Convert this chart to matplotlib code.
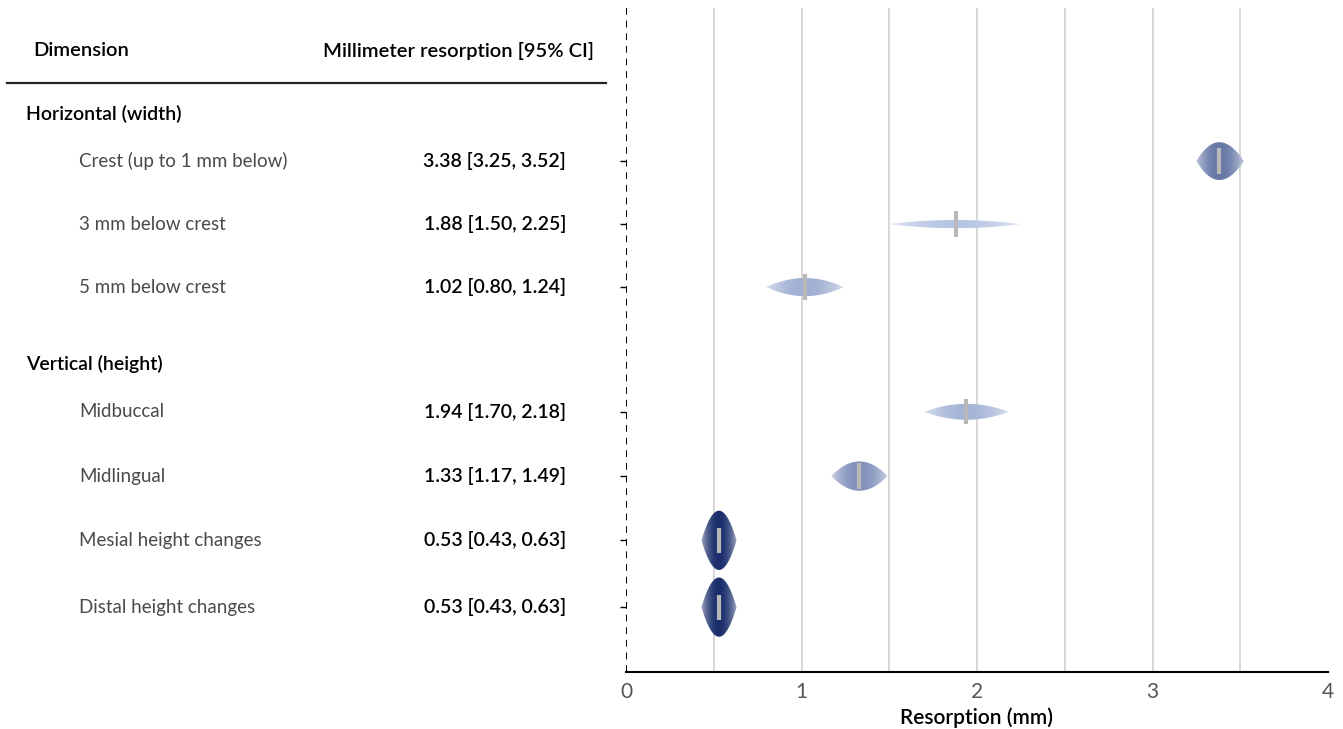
import numpy as np
import matplotlib
matplotlib.use("Agg")
from matplotlib import pyplot as plt
from matplotlib.patches import Polygon
from matplotlib.lines import Line2D
from matplotlib.transforms import blended_transform_factory
from matplotlib.colors import to_rgb

plt.rcParams['font.family'] = ['Lato', 'DejaVu Sans']

# resorption estimates with 95% CI
groups = ["Horizontal (width)", "Vertical (height)"]
labels = ["Crest (up to 1 mm below)", "3 mm below crest", "5 mm below crest",
          "Midbuccal", "Midlingual", "Mesial height changes", "Distal height changes"]
est = [3.38, 1.88, 1.02, 1.94, 1.33, 0.53, 0.53]
lo = [3.25, 1.50, 0.80, 1.70, 1.17, 0.43, 0.43]
hi = [3.52, 2.25, 1.24, 2.18, 1.49, 0.63, 0.63]

# layout (rows counted downward)
rowPos = [0, 1, 2, 3.98, 5.0, 6.02, 7.08]
groupPos = [-0.75, 3.22]
headPos = -1.75
rulePos = -1.24

fig = plt.figure(figsize=(13.43, 7.29), dpi=100)
ax = fig.add_axes([626/1343, 1 - 672/729, 702/1343, 664/729])
ax.set_xlim(0, 4)
ax.set_ylim(8.11, -2.43)

for g in np.arange(0.5, 4.0, 0.5):
  ax.axvline(g, color='#d4d4d4', lw=1.3, zorder=0)
ax.axvline(0, color='black', lw=1.4, ls=(0, (3.5, 3)), zorder=3)

light = np.array(to_rgb('#c4d2ee'))
dark = np.array(to_rgb('#1b2f6c'))

hMax = 5.3 / 0.2 ** 1.5
for i in range(len(est)):
  w = hi[i] - lo[i]
  hPx = 5.3 / w ** 1.5
  half = hPx / 63 / 2
  x = np.linspace(lo[i], hi[i], 200)
  # lens profile: parabola on each side of the estimate
  u = np.where(x < est[i], (est[i] - x) / (est[i] - lo[i]), (x - est[i]) / (hi[i] - est[i]))
  s = np.clip(1 - u ** 2, 0, 1)
  y = rowPos[i]
  poly = Polygon(np.vstack([np.c_[x, y - half * s], np.c_[x[::-1], y + half * s[::-1]]]),
                 closed=True, facecolor='none', edgecolor='none')
  ax.add_patch(poly)

  t = (hPx / hMax) ** 1.3
  base = light + (dark - light) * t
  mix = 0.4 + 0.6 * s
  rgb = 1 - (1 - base)[None, :] * mix[:, None]
  img = ax.imshow(rgb[None, :, :], extent=[lo[i], hi[i], y + half, y - half],
                  aspect='auto', interpolation='bilinear', zorder=2)
  img.set_clip_path(poly)

  ax.plot([est[i], est[i]], [y - 0.2, y + 0.2], color='#b8b8b8', lw=3,
          solid_capstyle='butt', zorder=4)

for side in ['top', 'right', 'left']:
  ax.spines[side].set_visible(False)
ax.spines['bottom'].set_linewidth(1.5)

ax.set_yticks(rowPos)
ax.set_yticklabels([])
ax.tick_params(axis='y', length=4, width=1, color='black')
ax.set_xticks([0, 1, 2, 3, 4])
ax.tick_params(axis='x', length=0, pad=7, labelsize=15, labelcolor='#555555')
ax.set_xlabel("Resorption (mm)", fontsize=15, fontweight='semibold', labelpad=4)

# left table
tr = blended_transform_factory(fig.transFigure, ax.transData)
ax.text(33/1343, headPos, "Dimension", transform=tr, fontsize=14.5,
        fontweight='semibold', va='center')
ax.text(594/1343, headPos, "Millimeter resorption [95% CI]", transform=tr, fontsize=14.5,
        fontweight='semibold', va='center', ha='right')
ax.add_line(Line2D([7/1343, 606/1343], [rulePos, rulePos], transform=tr,
                   color='#222222', lw=1.6, clip_on=False))
for k, g in enumerate(groups):
  ax.text(26/1343, groupPos[k], g, transform=tr, fontsize=14, fontweight='semibold',
          va='center')
for i, lab in enumerate(labels):
  ax.text(79/1343, rowPos[i], lab, transform=tr, fontsize=13.5, color='#4a4a4a',
          va='center')
  ax.text(566/1343, rowPos[i], f"{est[i]:.2f} [{lo[i]:.2f}, {hi[i]:.2f}]", transform=tr,
          fontsize=14, fontweight='semibold', va='center', ha='right')

fig.savefig('out.png', dpi=100)
